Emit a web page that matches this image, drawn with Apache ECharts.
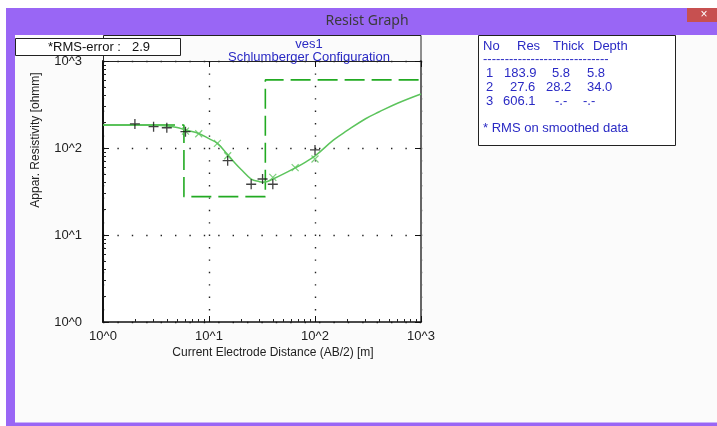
<!DOCTYPE html>
<html><head><meta charset="utf-8">
<script src="https://cdn.jsdelivr.net/npm/echarts@6/dist/echarts.min.js"></script>
<style>html,body{margin:0;padding:0;background:#fff}#c{width:717px;height:426px}</style>
</head><body><div id="c"></div>
<script>
// Field sounding: AB/2 [m] and apparent resistivity [ohm-m]
const abMeasured = [2, 3, 4, 6, 15, 25, 32, 40, 100];
const rhoMeasured = [189, 176, 171, 154, 71.5, 38.3, 44, 38.3, 95];
// Smoothed sounding values
const abSmoothed = [6, 8, 12, 15, 40, 65, 100];
const rhoSmoothed = [156, 146, 113, 81.5, 46, 59.4, 74.8];
// Forward response of the layered model
const abCurve = [1, 2, 3, 4, 5, 6, 8, 10, 12, 15, 18, 20, 25, 30, 32, 35, 40, 50, 65, 80, 100, 150, 200, 300, 400, 600, 1000];
const rhoCurve = [183.9, 184, 184, 179, 172, 161, 147, 128, 113, 84, 65, 57, 44, 41, 40.5, 41, 44, 50, 59, 68, 81, 124, 158, 217, 259, 327, 418];
// Layered earth model
const layerNo = [1, 2, 3];
const layerRes = [183.9, 27.6, 606.1];
const layerThick = [5.8, 28.2];
const layerDepth = [5.8, 34.0];
const rmsError = 2.9;
const axisMin = 1, axisMax = 1000;
const decadeLabels = ['10^0', '10^1', '10^2', '10^3'];

const FONT = '"Liberation Sans", Arial, sans-serif';
const BLUE = '#2a2ac4';
const PURPLE = '#9966f5';

// step line of the model: resistivity vs. depth
const modelLine = [];
layerRes.forEach((r, i) => {
  const from = i === 0 ? axisMin : layerDepth[i - 1];
  const to = i < layerDepth.length ? layerDepth[i] : axisMax;
  modelLine.push([from, r], [to, r]);
});
const modelDash = [72, 7];
for (let i = 0; i < 20; i++) modelDash.push(20, 7);

function decadeLabel(v) {
  return decadeLabels[Math.round(Math.log10(v))];
}

const logAxis = (extra) => Object.assign({
  type: 'log', logBase: 10, min: axisMin, max: axisMax,
  axisLine: { show: true, lineStyle: { color: '#111', width: 1.5 } },
  axisTick: { show: true, inside: true, length: 6, lineStyle: { color: '#111' } },
  minorTick: { show: false },
  splitLine: { show: false }
}, extra);

const chart = echarts.init(document.getElementById('c'), null, { renderer: 'canvas' });

// layer table texts
const tableTexts = [];
const tt = (x, y, s) => tableTexts.push({ type: 'text', x, y, z: 100,
  style: { text: s, fill: BLUE, font: '13px ' + FONT, textVerticalAlign: 'middle' } });
tt(483, 46, 'No'); tt(517, 46, 'Res'); tt(553, 46, 'Thick'); tt(593, 46, 'Depth');
tt(483, 59, '-----------------------------');
const rowY = [73, 87, 101];
const resX = [504, 510, 503];
const thickX = [552, 546, 555];
const depthX = [587, 587, 583];
layerNo.forEach((n, i) => {
  tt(486, rowY[i], String(n));
  tt(resX[i], rowY[i], layerRes[i].toFixed(1));
  tt(thickX[i], rowY[i], i < layerThick.length ? layerThick[i].toFixed(1) : '-.-');
  tt(depthX[i], rowY[i], i < layerDepth.length ? layerDepth[i].toFixed(1) : '-.-');
});
tt(483, 128, '* RMS on smoothed data');

chart.setOption({
  animation: false,
  backgroundColor: '#ffffff',
  grid: { left: 103, right: 296, top: 61, bottom: 104, show: true, backgroundColor: '#ffffff', borderWidth: 0 },
  xAxis: [
    logAxis({
      position: 'bottom',
      axisLabel: { show: true, formatter: decadeLabel, margin: 8, color: '#222', fontSize: 13, fontFamily: FONT },
      minorTick: { show: true, splitNumber: 9, length: 3, lineStyle: { color: '#222' } },
      splitLine: { show: true, lineStyle: { color: '#222', width: 1.4, type: [1.4, 11] } }
    }),
    logAxis({ position: 'top', axisLabel: { show: false }, axisLine: { show: true, lineStyle: { color: '#222', width: 1 } } })
  ],
  yAxis: [
    logAxis({
      position: 'left',
      axisLine: { show: true, lineStyle: { color: '#111', width: 2 } },
      axisLabel: { show: true, formatter: decadeLabel, margin: 21, color: '#222', fontSize: 13, fontFamily: FONT },
      minorTick: { show: true, splitNumber: 9, length: 3, lineStyle: { color: '#222' } },
      splitLine: { show: true, lineStyle: { color: '#222', width: 1.4, type: [1.4, 13] } }
    }),
    logAxis({ position: 'right', axisLabel: { show: false }, axisLine: { show: true, lineStyle: { color: '#666', width: 2 } } })
  ],
  series: [
    {
      type: 'line', name: 'model', data: modelLine, showSymbol: false, symbol: 'none',
      lineStyle: { color: '#22aa22', width: 1.6, type: modelDash }, z: 3
    },
    {
      type: 'line', name: 'response', data: abCurve.map((x, i) => [x, rhoCurve[i]]),
      smooth: 0.4, showSymbol: false, symbol: 'none',
      lineStyle: { color: '#5cc45c', width: 1.5 }, z: 4
    },
    {
      type: 'scatter', name: 'smoothed', data: abSmoothed.map((x, i) => [x, rhoSmoothed[i]]),
      symbol: 'path://M0,0L10,10M10,0L0,10', symbolSize: 7,
      itemStyle: { color: 'rgba(0,0,0,0)', borderColor: '#5cc45c', borderWidth: 1.2 }, z: 5
    },
    {
      type: 'scatter', name: 'measured', data: abMeasured.map((x, i) => [x, rhoMeasured[i]]),
      symbol: 'path://M5,0L5,10M0,5L10,5', symbolSize: 10,
      itemStyle: { color: 'rgba(0,0,0,0)', borderColor: '#111', borderWidth: 1.3 }, z: 6
    }
  ],
  graphic: [
    // window frame
    { type: 'rect', z: -10, shape: { x: 15, y: 35, width: 702, height: 388 }, style: { fill: '#fbfbfb' } },
    { type: 'rect', z: 100, shape: { x: 6, y: 8, width: 711, height: 27 }, style: { fill: PURPLE } },
    { type: 'rect', z: 100, shape: { x: 6, y: 8, width: 9, height: 418 }, style: { fill: PURPLE } },
    { type: 'rect', z: 100, shape: { x: 6, y: 423, width: 711, height: 3 }, style: { fill: PURPLE } },
    { type: 'rect', z: 100, shape: { x: 15, y: 422, width: 702, height: 1 }, style: { fill: '#c9b3f9' } },
    { type: 'rect', z: 101, shape: { x: 687, y: 8, width: 30, height: 14 }, style: { fill: '#c75050' } },
    { type: 'text', z: 102, x: 704, y: 15, style: { text: '×', fill: '#fff', font: '12px ' + FONT, textAlign: 'center', textVerticalAlign: 'middle' } },
    { type: 'text', z: 102, x: 367, y: 21, style: { text: 'Resist Graph', fill: '#3a3a3a', font: '14px "Noto Sans", sans-serif', textAlign: 'center', textVerticalAlign: 'middle' } },
    // plot title box
    { type: 'polyline', z: 100, shape: { points: [[103.5, 61], [103.5, 35.5], [421, 35.5], [421, 61]] }, style: { stroke: '#222', lineWidth: 1, fill: null } },
    { type: 'text', z: 100, x: 309, y: 44, style: { text: 'ves1', fill: BLUE, font: '13px ' + FONT, textAlign: 'center', textVerticalAlign: 'middle' } },
    { type: 'text', z: 100, x: 309, y: 57, style: { text: 'Schlumberger Configuration', fill: BLUE, font: '13px ' + FONT, textAlign: 'center', textVerticalAlign: 'middle' } },
    // RMS box
    { type: 'rect', z: 100, shape: { x: 15.5, y: 38.5, width: 165, height: 17 }, style: { fill: '#fff', stroke: '#222', lineWidth: 1 } },
    { type: 'text', z: 101, x: 48, y: 47.5, style: { text: '*RMS-error :', fill: '#111', font: '13px ' + FONT, textVerticalAlign: 'middle' } },
    { type: 'text', z: 101, x: 132, y: 47.5, style: { text: rmsError.toFixed(1), fill: '#111', font: '13px ' + FONT, textVerticalAlign: 'middle' } },
    // layer table box
    { type: 'rect', z: 99, shape: { x: 478.5, y: 35.5, width: 197, height: 110 }, style: { fill: '#fff', stroke: '#222', lineWidth: 1 } },
    ...tableTexts,
    // axis titles
    { type: 'text', z: 100, x: 273, y: 353, style: { text: 'Current Electrode Distance (AB/2) [m]', fill: '#222', font: '12px ' + FONT, textAlign: 'center', textVerticalAlign: 'middle' } },
    { type: 'text', z: 100, x: 36, y: 140, rotation: Math.PI / 2, style: { text: 'Appar. Resistivity [ohmm]', fill: '#222', font: '12px ' + FONT, textAlign: 'center', textVerticalAlign: 'middle' } }
  ]
});
</script></body></html>
